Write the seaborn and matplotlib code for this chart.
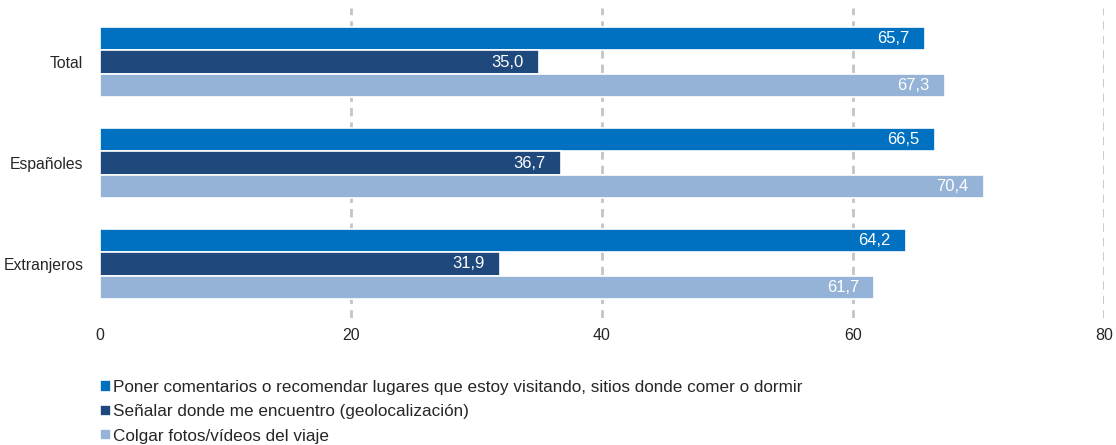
import matplotlib.pyplot as plt
import seaborn as sns
import pandas as pd

# === Data ===
groups = ["Total", "Españoles", "Extranjeros"]
series = [
    "Poner comentarios o recomendar lugares que estoy visitando, sitios donde comer o dormir",
    "Señalar donde me encuentro (geolocalización)",
    "Colgar fotos/vídeos del viaje",
]
comentarios = [65.7, 66.5, 64.2]
geolocalizacion = [35.0, 36.7, 31.9]
fotos = [67.3, 70.4, 61.7]
colors = ["#0070C0", "#1F497D", "#95B3D7"]

df = pd.DataFrame({
    "grupo": groups * 3,
    "serie": [series[0]] * 3 + [series[1]] * 3 + [series[2]] * 3,
    "valor": comentarios + geolocalizacion + fotos,
})

# === Style ===
sns.set_style("white")
plt.rcParams["font.family"] = ["Liberation Sans", "DejaVu Sans"]

fig = plt.figure(figsize=(11.16, 4.45), dpi=100)
ax = fig.add_axes([100 / 1116, 1 - 318 / 445, 1004 / 1116, 310 / 445])

sns.barplot(data=df, y="grupo", x="valor", hue="serie", hue_order=series,
            palette=colors, orient="h", width=0.69, edgecolor="white",
            linewidth=1.2, saturation=1, ax=ax)

# value labels inside the bar ends
for container in ax.containers:
    for patch in container:
        w = patch.get_width()
        y = patch.get_y() + patch.get_height() / 2
        ax.annotate(f"{w:.1f}".replace(".", ","), xy=(w, y), xytext=(-11, 0),
                    textcoords="offset points", ha="right", va="center",
                    color="white", fontsize=12)

# === Axes ===
ax.set_xlim(0, 80)
ax.set_ylim(2.535, -0.535)
ax.set_xticks([0, 20, 40, 60, 80])
for xv in [20, 40, 60, 80]:
    ax.axvline(xv, color="#C4C4C4", linestyle=(0, (3, 2.2)), linewidth=2, zorder=0)
for s in ax.spines.values():
    s.set_visible(False)
ax.tick_params(axis="x", length=0, pad=7, labelsize=11.5, labelcolor="#262626")
ax.tick_params(axis="y", length=0, pad=12, labelsize=11.3, labelcolor="#262626")
ax.set_xlabel("")
ax.set_ylabel("")

# === Legend ===
handles, labels = ax.get_legend_handles_labels()
ax.legend_.remove()
fig.legend(handles, labels, loc="upper left", bbox_to_anchor=(93 / 1116, 1 - 373 / 445),
           frameon=False, fontsize=12.3, handlelength=0.65, handleheight=0.65,
           handletextpad=0.1, labelspacing=0.55, borderaxespad=0,
           labelcolor="#262626")

plt.savefig("out.png", dpi=100)
plt.close()
